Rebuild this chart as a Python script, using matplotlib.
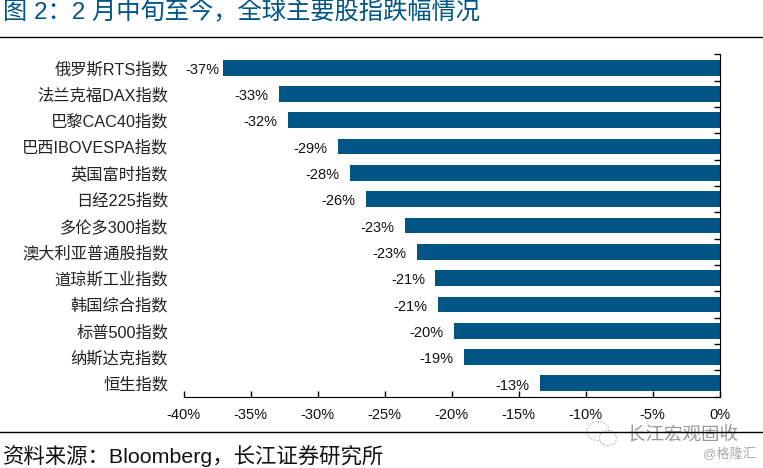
import matplotlib
matplotlib.use('Agg')
import matplotlib.pyplot as plt
from matplotlib.patches import Ellipse

plt.rcParams['font.family'] = ['Liberation Sans', 'Noto Sans CJK SC', 'DejaVu Sans']

names = ['俄罗斯RTS指数', '法兰克福DAX指数', '巴黎CAC40指数', '巴西IBOVESPA指数', '英国富时指数',
         '日经225指数', '多伦多300指数', '澳大利亚普通股指数', '道琼斯工业指数', '韩国综合指数',
         '标普500指数', '纳斯达克指数', '恒生指数']
values = [-37.05, -32.9, -32.2, -28.5, -27.6, -26.4, -23.5, -22.6, -21.2, -21.0, -19.8, -19.1, -13.4]
labels = ['-37%', '-33%', '-32%', '-29%', '-28%', '-26%', '-23%', '-23%', '-21%', '-21%', '-20%', '-19%', '-13%']
ticks = [-40, -35, -30, -25, -20, -15, -10, -5, 0]

W, H = 763, 468
fig = plt.figure(figsize=(W / 100, H / 100), dpi=100)
ax = fig.add_axes([183.5 / W, 1 - 396.5 / H, 536 / W, 342 / H])

pos = list(range(len(names)))
ax.barh(pos, values, height=0.6, color='#005587')
for p, v, s in zip(pos, values, labels):
    # pierwsza etykieta lezy blizej slupka, bo inaczej wyszlaby poza os
    gap = -2.5 if p == 0 else -7.5
    ax.annotate(s, (v, p), xytext=(gap, -0.5), textcoords='offset points', ha='right', va='center_baseline',
                fontsize=10.5, color='#111111')

ax.set_xlim(-40, 0)
ax.set_ylim(len(names) - 0.5, -0.5)
ax.set_xticks(ticks)
ax.set_xticklabels([f'{t}%' for t in ticks], fontsize=10.5, color='#111111')
ax.tick_params(axis='x', direction='in', length=4.5, width=1, pad=8.5)

# podzialka po prawej stronie, miedzy slupkami
ax.set_yticks(pos)
ax.set_yticklabels(names, fontsize=11.7, color='#222222')
ax.tick_params(axis='y', which='major', length=0, pad=11)
ax.set_yticks([p - 0.5 for p in pos] + [len(names) - 0.5], minor=True)
ax.tick_params(axis='y', which='minor', direction='in', length=4.5, width=1, left=False, right=True)

ax.spines['top'].set_visible(False)
ax.spines['left'].set_visible(False)

fig.text(3 / W, 1 - 12 / H, '图 2：2 月中旬至今，全球主要股指跌幅情况', fontsize=17.5, color='#005587', va='center')
fig.add_artist(plt.Line2D([0, 1], [1 - 36.5 / H] * 2, color='black', lw=1))
fig.add_artist(plt.Line2D([0, 1], [1 - 431.5 / H] * 2, color='black', lw=1))
fig.text(3 / W, 1 - 456 / H, '资料来源：Bloomberg，长江证券研究所', fontsize=15.4, color='#111111', va='center')

# znak wodny
overlay = fig.add_axes([0, 0, 1, 1])
overlay.set_axis_off()
overlay.set_xlim(0, W)
overlay.set_ylim(H, 0)
overlay.patch.set_alpha(0)
overlay.add_patch(Ellipse((598, 431), 22, 19, fill=False, ec='#999999', lw=0.8, ls=':'))
overlay.add_patch(Ellipse((608, 438), 17, 15, fc='white', ec='#999999', lw=0.8, ls=':'))
overlay.text(627, 435, '长江宏观固收', fontsize=13.3, color='#999999', va='center')
overlay.text(703, 454, '@格隆汇', fontsize=9.5, color='#aaaaaa', va='center')

fig.savefig('out.png', dpi=100)
